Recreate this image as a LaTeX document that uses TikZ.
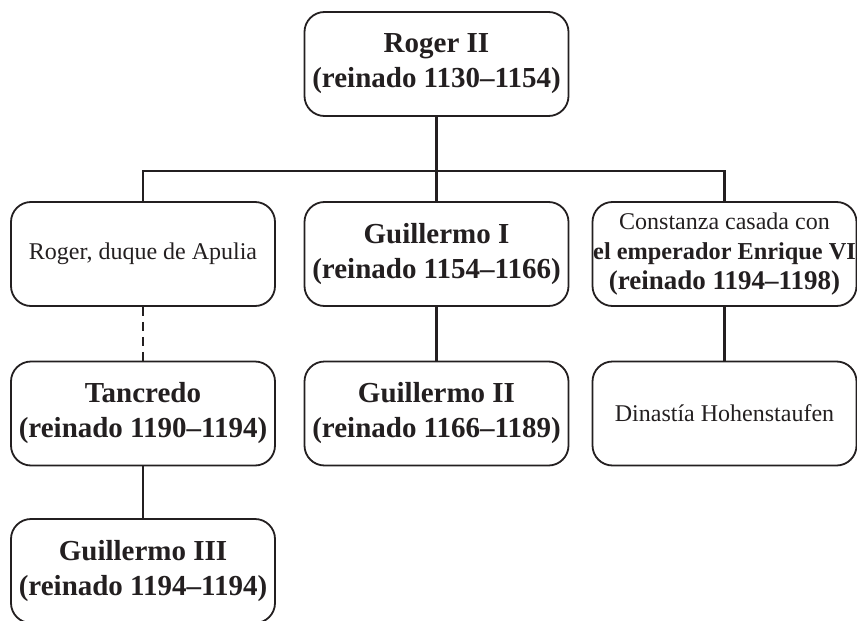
\documentclass[tikz,border=0pt]{standalone}
\usepackage{fontspec}
\setmainfont{Liberation Serif}
\definecolor{ink}{HTML}{231F20}
\begin{document}
\begin{tikzpicture}[x=1pt,y=-1pt,
  box/.style={draw=ink, line width=1.8pt, rounded corners=20pt, minimum width=264pt,
              minimum height=104pt, inner sep=0pt, align=center, text=ink},
  big/.style={font=\fontsize{29}{35}\selectfont\bfseries},
  small/.style={font=\fontsize{24}{30}\selectfont},
  link/.style={draw=ink, line width=2.4pt},
  dlink/.style={link, dash pattern=on 9pt off 6pt}]
\useasboundingbox (0,0) rectangle (857,621);
\coordinate (bar) at (0,171);
\node[box,big] (root) at (436.5,64) {Roger II\\(reinado 1130--1154)};
\node[box,small] (apulia) at (143,254) {Roger, duque de Apulia};
\node[box,big] (g1) at (436.5,254) {Guillermo I\\(reinado 1154--1166)};
\node[box,small] (const) at (724.5,254)
  {\fontsize{24}{30}\selectfont Constanza casada con\\
   \fontsize{24.3}{30}\selectfont\bfseries el emperador Enrique VI\\
   \fontsize{27}{30}\selectfont\bfseries (reinado 1194--1198)};
\node[box,big] (tanc) at (143,413.5) {Tancredo\\(reinado 1190--1194)};
\node[box,big] (g2) at (436.5,413.5) {Guillermo II\\(reinado 1166--1189)};
\node[box,small] (hohen) at (724.5,413.5) {Dinastía Hohenstaufen};
\node[box,big] (g3) at (143,571) {Guillermo III\\(reinado 1194--1194)};
\draw[link] (root.south) -- (g1.north);
\draw[link] (apulia.north) -- (apulia.north |- bar) -- (const.north |- bar) -- (const.north);
\draw[dlink] (apulia.south) -- (tanc.north);
\draw[link] (g1.south) -- (g2.north);
\draw[link] (const.south) -- (hohen.north);
\draw[link] (tanc.south) -- (g3.north);
\end{tikzpicture}
\end{document}
